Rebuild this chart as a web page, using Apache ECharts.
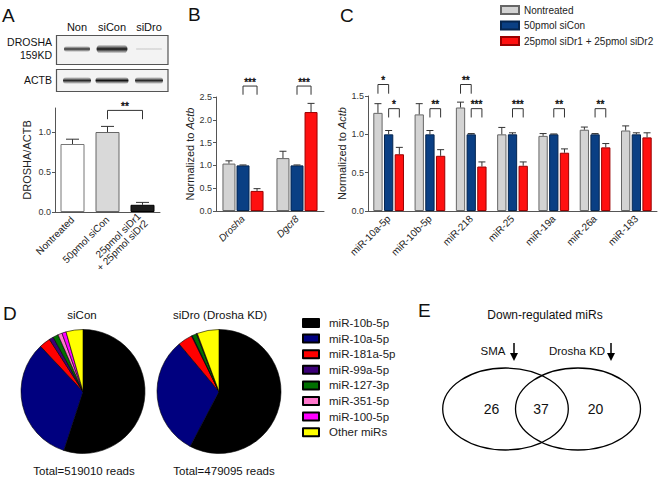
<!DOCTYPE html>
<html>
<head>
<meta charset="utf-8">
<script src="https://cdn.jsdelivr.net/npm/echarts@6/dist/echarts.min.js"></script>
<style>
  html, body { margin: 0; padding: 0; background: #fff; }
  #main { width: 660px; height: 480px; }
</style>
</head>
<body>
<div id="main"></div>
<script>
// ---- data ----
const blotLanes = ['Non', 'siCon', 'siDro'];
const droshaBand = [0.85, 1.0, 0.15];   // relative band strength
const actbBand = [0.9, 1.0, 0.9];

const aCats = ['Nontreated', '50pmol siCon', '25pmol siDr1\n+ 25pmol siDr2'];
const aMeans = [0.85, 1.0, 0.09];
const aErrs = [0.06, 0.07, 0.03];
const aTicks = [0, 0.5, 1.0];
const aBrackets = [[1, 0, 2, 0, 1.27, 1.16]];
const aStars = ['**'];

const treatments = ['Nontreated', '50pmol siCon', '25pmol siDr1 + 25pmol siDr2'];

const bCats = ['Drosha', 'Dgcr8'];
const bMeans = [[1.04, 1.16], [1.0, 1.0], [0.44, 2.17]];
const bErrs = [[0.06, 0.15], [0.01, 0.01], [0.05, 0.19]];
const bBrackets = [[0, 1, 0, 2, 2.74, 2.55], [1, 1, 1, 2, 2.74, 2.55]];
const bStars = ['***', '***'];

const cCats = ['miR-10a-5p', 'miR-10b-5p', 'miR-218', 'miR-25', 'miR-19a', 'miR-26a', 'miR-183'];
const cMeans = [
  [1.28, 1.26, 1.35, 1.0, 0.98, 1.06, 1.05],
  [1.0, 1.0, 1.0, 1.0, 1.0, 1.0, 1.0],
  [0.74, 0.72, 0.58, 0.59, 0.76, 0.83, 0.96]
];
const cErrs = [
  [0.12, 0.14, 0.07, 0.09, 0.03, 0.035, 0.06],
  [0.05, 0.05, 0.01, 0.02, 0.005, 0.01, 0.02],
  [0.09, 0.08, 0.06, 0.05, 0.05, 0.05, 0.06]
];
const cBrackets = [
  [0, 0, 0, 1, 1.65, 1.53],
  [0, 1, 0, 2, 1.335, 1.22],
  [1, 1, 1, 2, 1.335, 1.22],
  [2, 0, 2, 1, 1.65, 1.53],
  [2, 1, 2, 2, 1.335, 1.22],
  [3, 1, 3, 2, 1.335, 1.22],
  [4, 1, 4, 2, 1.335, 1.22],
  [5, 1, 5, 2, 1.335, 1.22]
];
const cStars = ['*', '*', '**', '**', '***', '***', '**', '**'];

const pieNames = ['miR-10b-5p', 'miR-10a-5p', 'miR-181a-5p', 'miR-99a-5p', 'miR-127-3p', 'miR-351-5p', 'miR-100-5p', 'Other miRs'];
const siConShare = [55.0, 33.0, 2.9, 1.1, 1.4, 1.1, 1.1, 4.4];
const siDroShare = [57.7, 31.2, 3.8, 0.2, 1.2, 0.1, 0.1, 5.7];
const pieTitles = ['siCon', 'siDro (Drosha KD)'];
const pieTotals = [519010, 479095];

const vennTitle = 'Down-regulated miRs';
const vennSets = ['SMA', 'Drosha KD'];
const vennCounts = [26, 37, 20];

// ---- styles ----
const FONT = 'Liberation Sans, Arial, Helvetica, sans-serif';
const aFill = ['#ffffff', '#d9d9d9', '#1c1c1c'];
const aBorder = ['#777', '#666', '#000'];
const tFill = ['#d3d3d3', '#0a3f84', '#ff1010'];
const tBorder = ['#666', '#05254f', '#9a0000'];
const pieColors = ['#000000', '#00007f', '#ff0000', '#3c0078', '#007000', '#ff77cc', '#ff00ff', '#ffff00'];

var chart = echarts.init(document.getElementById('main'), null, { renderer: 'svg' });

function errItem(offset, capW) {
  return function (params, api) {
    var c = api.coord([api.value(0), api.value(1)]);
    var t = api.coord([api.value(0), api.value(1) + api.value(2)]);
    var x = c[0] + offset;
    return {
      type: 'group',
      children: [
        { type: 'line', shape: { x1: x, y1: c[1], x2: x, y2: t[1] }, style: { stroke: '#333', lineWidth: 1 } },
        { type: 'line', shape: { x1: x - capW / 2, y1: t[1], x2: x + capW / 2, y2: t[1] }, style: { stroke: '#333', lineWidth: 1 } }
      ]
    };
  };
}

function bracketItem(step, nSeries) {
  return function (params, api) {
    var p1 = api.coord([api.value(0), api.value(4)]);
    var p2 = api.coord([api.value(2), api.value(5)]);
    var x1 = p1[0] + (api.value(1) - (nSeries - 1) / 2) * step;
    var x2 = p2[0] + (api.value(3) - (nSeries - 1) / 2) * step;
    var yt = p1[1], yb = p2[1];
    return { type: 'polyline', shape: { points: [[x1, yb], [x1, yt], [x2, yt], [x2, yb]] }, style: { stroke: '#333', lineWidth: 1, fill: null } };
  };
}

function axisX(idx, cats, rotate, italic) {
  return {
    type: 'category', gridIndex: idx, data: cats,
    axisLine: { lineStyle: { color: '#555' } },
    axisTick: { alignWithLabel: true, length: 3, lineStyle: { color: '#555' } },
    axisLabel: { rotate: rotate, interval: 0, fontSize: 10, color: '#222', margin: 6, fontStyle: italic ? 'italic' : 'normal', fontFamily: FONT }
  };
}

function axisY(idx, max, name, gap, extra) {
  var ax = {
    type: 'value', gridIndex: idx, min: 0, max: max, interval: 0.5,
    name: name, nameLocation: 'middle', nameGap: gap,
    nameTextStyle: { fontSize: 11, color: '#222', fontFamily: FONT, rich: { i: { fontStyle: 'italic', fontSize: 11, fontFamily: FONT, color: '#222' } } },
    axisLine: { show: true, lineStyle: { color: '#555' } },
    axisTick: { show: true, length: 3, lineStyle: { color: '#555' } },
    axisLabel: { fontSize: 9, color: '#333', margin: 4, fontFamily: FONT, formatter: function (v) { return v.toFixed(1); } },
    splitLine: { show: false }
  };
  return Object.assign(ax, extra || {});
}

var series = [];
var starSets = [];  // [gridIndex, brackets, stars, step, nSeries]

// panel A
series.push({
  name: 'DROSHA/ACTB', type: 'bar', xAxisIndex: 0, yAxisIndex: 0, barWidth: 24,
  data: aMeans.map(function (m, i) { return { value: m, itemStyle: { color: aFill[i], borderColor: aBorder[i], borderWidth: 1 } }; }),
  silent: true
});
series.push({
  type: 'custom', xAxisIndex: 0, yAxisIndex: 0, silent: true, z: 5,
  data: aMeans.map(function (m, i) { return [i, m, aErrs[i]]; }),
  renderItem: errItem(0, 13)
});
series.push({
  type: 'custom', xAxisIndex: 0, yAxisIndex: 0, silent: true, clip: false, z: 5,
  data: aBrackets, encode: { x: [0, 2], y: [4, 5] },
  renderItem: bracketItem(0, 1)
});
starSets.push([0, aBrackets, aStars, 0, 1]);

// panels B and C
function groupSeries(gi, means, errs, bw, gapPct, capW, brackets, stars) {
  var step = bw * (1 + gapPct / 100);
  treatments.forEach(function (t, s) {
    series.push({
      name: t, type: 'bar', xAxisIndex: gi, yAxisIndex: gi, barWidth: bw, barGap: gapPct + '%',
      itemStyle: { color: tFill[s], borderColor: tBorder[s], borderWidth: 1 },
      data: means[s], silent: true
    });
    series.push({
      type: 'custom', xAxisIndex: gi, yAxisIndex: gi, silent: true, z: 5,
      data: means[s].map(function (m, i) { return [i, m, errs[s][i]]; }),
      renderItem: errItem((s - 1) * step, capW)
    });
  });
  series.push({
    type: 'custom', xAxisIndex: gi, yAxisIndex: gi, silent: true, clip: false, z: 5,
    data: brackets, encode: { x: [0, 2], y: [4, 5] },
    renderItem: bracketItem(step, 3)
  });
  starSets.push([gi, brackets, stars, step, 3]);
}
groupSeries(1, bMeans, bErrs, 13, 8, 7, bBrackets, bStars);
groupSeries(2, cMeans, cErrs, 9.3, 15, 7, cBrackets, cStars);

// panel D pies
[siConShare, siDroShare].forEach(function (share, k) {
  series.push({
    type: 'pie', center: [k === 0 ? 83 : 219, 391.5], radius: 62,
    startAngle: 90, clockwise: true, silent: true, label: { show: false }, labelLine: { show: false },
    itemStyle: { borderColor: '#000', borderWidth: 0.6 },
    data: pieNames.map(function (n, i) { return { name: n, value: share[i], itemStyle: { color: pieColors[i] } }; })
  });
});

// graphic: panel letters, blots, pie captions, venn
var g = [];
function txt(s, x, y, size, align, extra) {
  g.push({ type: 'text', x: x, y: y, silent: true,
    style: Object.assign({ text: s, fontSize: size, fontFamily: FONT, fill: '#111', align: align || 'center', verticalAlign: 'middle' }, extra || {}) });
}
[['A', 2, 15], ['B', 188, 14], ['C', 340, 15], ['D', 3, 313], ['E', 418, 310]].forEach(function (l) {
  txt(l[0], l[1], l[2], 19, 'left');
});

// blots
var laneX = [77, 112, 149];
var laneW = [26, 31, 26];
blotLanes.forEach(function (n, i) { txt(n, laneX[i], 27, 11); });
txt('DROSHA', 52, 42, 10.5, 'right');
txt('159KD', 52, 55, 10.5, 'right');
txt('ACTB', 52, 80, 10.5, 'right');
[[35, 64], [69, 91]].forEach(function (b) {
  g.push({ type: 'rect', silent: true, shape: { x: 56.5, y: b[0] + 0.5, width: 111.5, height: b[1] - b[0] },
    style: { fill: '#f3f3f3', stroke: '#555', lineWidth: 1.2 } });
});
function band(cx, cy, w, h, k) {
  var a = Math.max(0.15, k);
  g.push({ type: 'rect', silent: true, shape: { x: cx - w / 2, y: cy - h / 2, width: w, height: h, r: h / 2 },
    style: { fill: new echarts.graphic.LinearGradient(0, 0, 0, 1, [
      { offset: 0, color: 'rgba(20,20,20,0)' },
      { offset: 0.5, color: 'rgba(20,20,20,' + a + ')' },
      { offset: 1, color: 'rgba(20,20,20,0)' }]) } });
}
droshaBand.forEach(function (k, i) { band(laneX[i], 49, laneW[i], k > 0.5 ? 5 + 4 * (k - 0.8) / 0.2 : 3, k); });
actbBand.forEach(function (k, i) { band(laneX[i], 80.5, laneW[i] + 2, 7, k); });

// pie captions
pieTitles.forEach(function (t, k) { txt(t, k === 0 ? 82 : 220, 314.5, 11.5); });
pieTotals.forEach(function (t, k) { txt('Total=' + t + ' reads', k === 0 ? 84 : 224, 471, 11.5); });

// venn
txt(vennTitle, 545, 315, 12);
txt(vennSets[0], 493, 351, 11.5);
txt(vennSets[1], 577, 351, 11.5);
[514, 611].forEach(function (x) {
  g.push({ type: 'line', silent: true, shape: { x1: x, y1: 343, x2: x, y2: 355 }, style: { stroke: '#000', lineWidth: 1.5 } });
  g.push({ type: 'polygon', silent: true, shape: { points: [[x - 4, 353], [x + 4, 353], [x, 361]] }, style: { fill: '#000' } });
});
g.push({ type: 'ellipse', silent: true, shape: { cx: 505.5, cy: 409, rx: 62.8, ry: 41 }, style: { fill: null, stroke: '#000', lineWidth: 1.3 } });
g.push({ type: 'ellipse', silent: true, shape: { cx: 578, cy: 409, rx: 62.5, ry: 41 }, style: { fill: null, stroke: '#000', lineWidth: 1.3 } });
[491.5, 541, 595.5].forEach(function (x, i) { txt(String(vennCounts[i]), x, 409, 14); });

chart.setOption({
  animation: false,
  textStyle: { fontFamily: FONT },
  grid: [
    { left: 55, top: 108, width: 105, height: 104 },
    { left: 216, top: 97, width: 108, height: 114 },
    { left: 368, top: 96, width: 289, height: 115 }
  ],
  xAxis: [axisX(0, aCats, 45, false), axisX(1, bCats, 45, true), axisX(2, cCats, 45, false)],
  yAxis: [
    axisY(0, 1.3, 'DROSHA/ACTB', 23, {
      interval: null,
      axisLabel: { fontSize: 9, color: '#333', margin: 4, fontFamily: FONT, customValues: aTicks, formatter: function (v) { return v.toFixed(1); } },
      axisTick: { show: true, length: 3, customValues: aTicks, lineStyle: { color: '#555' } }
    }),
    axisY(1, 2.5, 'Normalized to {i|Actb}', 19),
    axisY(2, 1.5, 'Normalized to {i|Actb}', 16)
  ],
  legend: [
    { data: treatments, left: 500, top: 5, padding: 0, orient: 'vertical', itemWidth: 18, itemHeight: 8, itemGap: 5.5, icon: 'rect',
      selectedMode: false, textStyle: { fontSize: 10, color: '#222', fontFamily: FONT } },
    { data: pieNames, left: 302, top: 317, padding: 0, orient: 'vertical', itemWidth: 16, itemHeight: 8, itemGap: 3.6, icon: 'rect',
      selectedMode: false, textStyle: { fontSize: 11.5, color: '#222', fontFamily: FONT, padding: [0, 0, 0, 5] } }
  ],
  series: series,
  graphic: g
});

// significance stars, placed through the axes' own scales
starSets.forEach(function (set) {
  var gi = set[0], step = set[3], n = set[4];
  set[1].forEach(function (b, j) {
    var p1 = chart.convertToPixel({ gridIndex: gi }, [b[0], b[4]]);
    var p2 = chart.convertToPixel({ gridIndex: gi }, [b[2], b[4]]);
    var x1 = p1[0] + (b[1] - (n - 1) / 2) * step;
    var x2 = p2[0] + (b[3] - (n - 1) / 2) * step;
    txt(set[2][j], (x1 + x2) / 2, p1[1] + 1, 10, 'center', { verticalAlign: 'bottom', fill: '#111', stroke: '#111', lineWidth: 0.4 });
  });
});
chart.setOption({ graphic: g });
</script>
</body>
</html>
